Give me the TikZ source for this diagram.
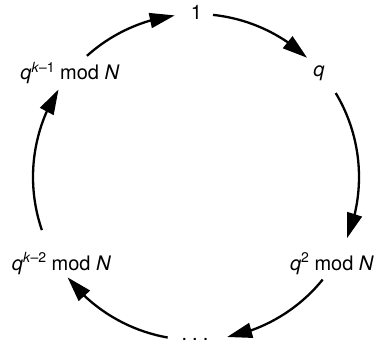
\documentclass[tikz,border=0pt]{standalone}
\usepackage{fontspec}
\setmainfont{TeX Gyre Heros}
\usetikzlibrary{arrows.meta,bending}
\newcommand{\mysup}[1]{\raisebox{7.5pt}{\fontsize{14}{14}\selectfont #1}}
\begin{document}
\begin{tikzpicture}[x=1pt,y=1pt,
  lbl/.style={anchor=base, inner sep=0pt, font=\fontsize{20}{24}\selectfont},
  cyc/.style={line width=2.3pt, -{Triangle[length=25pt,width=15pt]}}]
\useasboundingbox (0,0) rectangle (380,343);
\coordinate (C) at (196,166);
\node[lbl] (n1) at (196.5,323) {1};
\node[lbl] (nq) at (319,266) {\textit{q}};
\node[lbl] (nq2) at (332,73) {\textit{q}\mysup{2} mod \textit{N}};
\node[lbl] (ndots) at (195,3) {.\hspace{5pt}.\hspace{5pt}.};
\node[lbl] (nqk2) at (61.5,73) {\textit{q}\mysup{\textit{k}–2} mod \textit{N}};
\node[lbl] (nqk1) at (70,263) {\textit{q}\mysup{\textit{k}–1} mod \textit{N}};
\coordinate (a1) at ([shift={(84:163pt)}]C);
\coordinate (a2) at ([shift={(31:163pt)}]C);
\coordinate (a3) at ([shift={(-39:163pt)}]C);
\coordinate (a4) at ([shift={(260:163pt)}]C);
\coordinate (a5) at ([shift={(199:163pt)}]C);
\coordinate (a6) at ([shift={(132:163pt)}]C);
\draw[cyc] (a1) arc[start angle=84,end angle=47,radius=163pt];
\draw[cyc] (a2) arc[start angle=31,end angle=-22,radius=163pt];
\draw[cyc] (a3) arc[start angle=-39,end angle=-79,radius=163pt];
\draw[cyc] (a4) arc[start angle=260,end angle=218,radius=163pt];
\draw[cyc] (a5) arc[start angle=199,end angle=147.5,radius=163pt];
\draw[cyc] (a6) arc[start angle=132,end angle=97.5,radius=163pt];
\end{tikzpicture}
\end{document}
